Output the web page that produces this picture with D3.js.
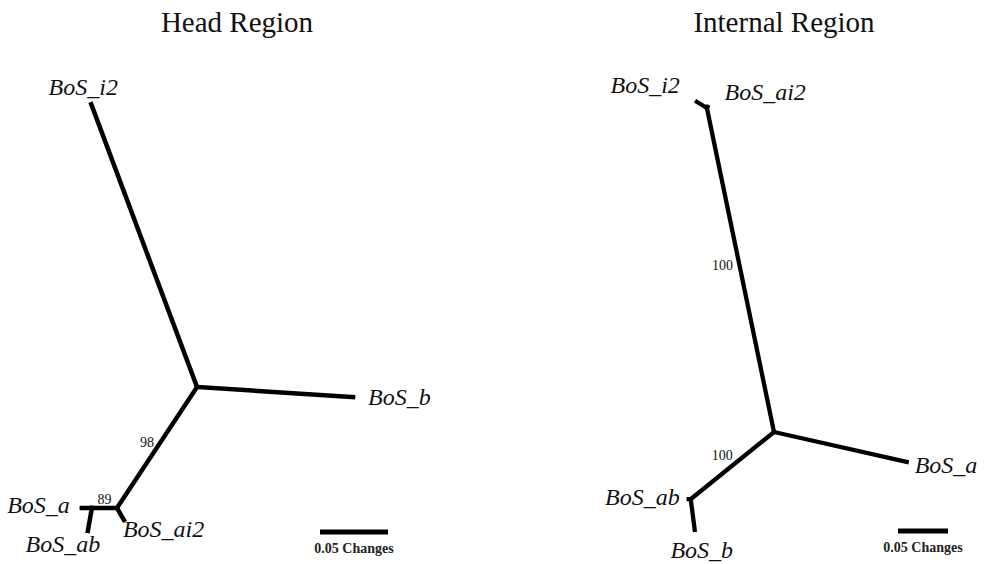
<!DOCTYPE html>
<html>
<head>
<meta charset="utf-8">
<script src="https://cdn.jsdelivr.net/npm/d3@7"></script>
<style>
  html, body { margin: 0; padding: 0; background: #fff; }
  svg { display: block; }
</style>
</head>
<body>
<svg id="chart" width="989" height="564"></svg>
<script>
// ---------------- DATA ----------------
const panelTitles = ["Head Region", "Internal Region"];

// Branches of the unrooted trees: length in substitutions/site, direction in degrees
const headBranches = [
  { from: "c",  to: "BoS_i2",  len: 0.222,  angle: -110.5 },
  { from: "c",  to: "BoS_b",   len: 0.115,  angle: 3.7 },
  { from: "c",  to: "n1",      len: 0.1067, angle: 123.5 },
  { from: "n1", to: "BoS_ai2", len: 0.0102, angle: 59.7 },
  { from: "n1", to: "n2",      len: 0.0184, angle: 180 },
  { from: "n2", to: "BoS_a",   len: 0.0074, angle: 180 },
  { from: "n2", to: "BoS_ab",  len: 0.0171, angle: 100 }
];
const headSupport = [
  { branch: "n1", value: "98" },
  { branch: "n2", value: "89" }
];

const internalBranches = [
  { from: "c",  to: "n1",      len: 0.331,  angle: -101.7 },
  { from: "n1", to: "BoS_i2",  len: 0.0117, angle: -149 },
  { from: "n1", to: "BoS_ai2", len: 0.0012, angle: -60 },
  { from: "c",  to: "BoS_a",   len: 0.136,  angle: 12.7 },
  { from: "c",  to: "n2",      len: 0.107,  angle: 141.1 },
  { from: "n2", to: "BoS_ab",  len: 0.002,  angle: 180 },
  { from: "n2", to: "BoS_b",   len: 0.031,  angle: 82.6 }
];
const internalSupport = [
  { branch: "n1", value: "100" },
  { branch: "n2", value: "100" }
];

const scaleBarValue = 0.05;
const scaleBarLabel = "0.05 Changes";

// ---------------- LAYOUT ----------------
const panels = [
  {
    title: panelTitles[0], titleX: 237,
    branches: headBranches, support: headSupport,
    origin: [197, 387], pxPerBar: 68,
    bar: { x: 320, y: 532 },
    labels: {
      BoS_i2:  { dx: -8,  dy: -9,  anchor: "middle" },
      BoS_b:   { dx: 15,  dy: 8,   anchor: "start" },
      BoS_a:   { dx: -12, dy: 5,   anchor: "end" },
      BoS_ab:  { dx: -25, dy: 21,  anchor: "middle" },
      BoS_ai2: { dx: -1,  dy: 17,  anchor: "start" }
    },
    // offsets from the midpoint of the supported branch
    supportPos: { n1: { dx: -10, dy: -1 }, n2: { dx: 0, dy: -4 } },
    width: 4.5
  },
  {
    title: panelTitles[1], titleX: 784,
    branches: internalBranches, support: internalSupport,
    origin: [774, 432], pxPerBar: 50,
    bar: { x: 898, y: 531 },
    labels: {
      BoS_i2:  { dx: -17, dy: -9, anchor: "end" },
      BoS_ai2: { dx: 17,  dy: -7, anchor: "start" },
      BoS_a:   { dx: 8,   dy: 11, anchor: "start" },
      BoS_ab:  { dx: -9,  dy: 6,  anchor: "end" },
      BoS_b:   { dx: 7,   dy: 28, anchor: "middle" }
    },
    supportPos: { n1: { dx: -18, dy: 0 }, n2: { dx: -10, dy: -6 } },
    width: 4.3
  }
];

const svg = d3.select("#chart");
const serif = "'Liberation Serif', 'Times New Roman', serif";

panels.forEach(p => {
  const len = d3.scaleLinear().domain([0, scaleBarValue]).range([0, p.pxPerBar]);
  const pos = { c: { x: p.origin[0], y: p.origin[1] } };
  const parentOf = {};
  p.branches.forEach(b => {
    const s = pos[b.from];
    const r = len(b.len), a = b.angle * Math.PI / 180;
    pos[b.to] = { x: s.x + r * Math.cos(a), y: s.y + r * Math.sin(a) };
    parentOf[b.to] = b.from;
  });

  const g = svg.append("g");

  g.append("text")
    .attr("x", p.titleX).attr("y", 32)
    .attr("text-anchor", "middle")
    .attr("font-family", serif).attr("font-size", 29)
    .attr("fill", "#111")
    .text(p.title);

  g.selectAll("line.branch").data(p.branches).join("line")
    .attr("class", "branch")
    .attr("x1", d => pos[d.from].x).attr("y1", d => pos[d.from].y)
    .attr("x2", d => pos[d.to].x).attr("y2", d => pos[d.to].y)
    .attr("stroke", "#000").attr("stroke-width", p.width)
    .attr("stroke-linecap", "square");

  // joints at internal nodes
  const internal = Object.keys(pos).filter(k => !k.startsWith("BoS"));
  g.selectAll("circle.joint").data(internal).join("circle")
    .attr("class", "joint")
    .attr("cx", k => pos[k].x).attr("cy", k => pos[k].y)
    .attr("r", p.width / 2).attr("fill", "#000");

  const tips = p.branches.filter(b => b.to.startsWith("BoS"));
  g.selectAll("text.tip").data(tips).join("text")
    .attr("class", "tip")
    .attr("x", d => pos[d.to].x + p.labels[d.to].dx)
    .attr("y", d => pos[d.to].y + p.labels[d.to].dy)
    .attr("text-anchor", d => p.labels[d.to].anchor)
    .attr("font-family", serif).attr("font-style", "italic")
    .attr("font-size", 24).attr("fill", "#111")
    .text(d => d.to);

  const mid = k => {
    const a = pos[k], b = pos[parentOf[k]];
    return { x: (a.x + b.x) / 2, y: (a.y + b.y) / 2 };
  };
  g.selectAll("text.support").data(p.support).join("text")
    .attr("class", "support")
    .attr("x", d => mid(d.branch).x + p.supportPos[d.branch].dx)
    .attr("y", d => mid(d.branch).y + p.supportPos[d.branch].dy)
    .attr("text-anchor", "middle")
    .attr("font-family", serif).attr("font-size", 14)
    .attr("fill", "#111")
    .text(d => d.value);

  // scale bar
  g.append("line")
    .attr("x1", p.bar.x).attr("x2", p.bar.x + len(scaleBarValue))
    .attr("y1", p.bar.y).attr("y2", p.bar.y)
    .attr("stroke", "#000").attr("stroke-width", 5);
  g.append("text")
    .attr("x", p.bar.x + len(scaleBarValue) / 2).attr("y", p.bar.y + 21)
    .attr("text-anchor", "middle")
    .attr("font-family", serif).attr("font-size", 14).attr("font-weight", "bold")
    .attr("fill", "#222")
    .text(scaleBarLabel);
});
</script>
</body>
</html>
